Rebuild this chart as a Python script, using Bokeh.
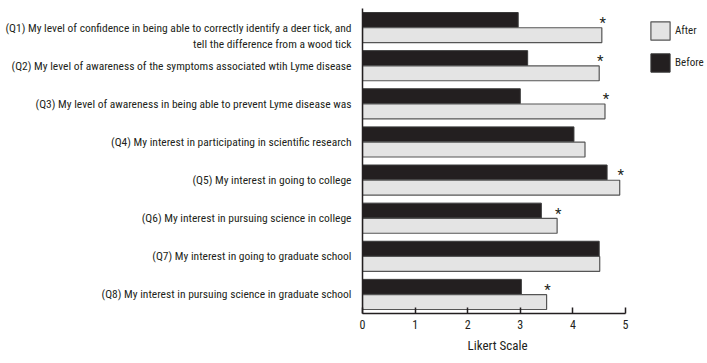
from bokeh.plotting import figure
from bokeh.models import ColumnDataSource, FactorRange, Legend, LegendItem, FixedTicker, Title
from bokeh.transform import dodge
from bokeh.core.properties import value
from bokeh.embed import file_html
from bokeh.resources import INLINE

questions = [
    "\n(Q1) My level of confidence in being able to correctly identify a deer tick, and\ntell the difference from a wood tick",
    "(Q2) My level of awareness of the symptoms associated wtih Lyme disease",
    "(Q3) My level of awareness in being able to prevent Lyme disease was",
    "(Q4) My interest in participating in scientific research",
    "(Q5) My interest in going to college",
    "(Q6) My interest in pursuing science in college",
    "(Q7) My interest in going to graduate school",
    "(Q8) My interest in pursuing science in graduate school",
]
before = [2.96, 3.14, 3.00, 4.02, 4.65, 3.40, 4.50, 3.02]
after = [4.55, 4.50, 4.61, 4.23, 4.89, 3.70, 4.51, 3.50]
significant = ["*", "*", "*", "", "*", "*", "", "*"]
x_ticks = [0, 1, 2, 3, 4, 5]
x_label = "Likert Scale"

FONT = "Roboto Condensed"
TXT = "#231f20"

src = ColumnDataSource(dict(q=questions, before=before, after=after, star=significant))

W, H = 705, 363
LEFT = 362           # px of the value 0
UNIT = 52.6          # px per Likert unit
p = figure(
    width=W, height=H,
    y_range=FactorRange(*reversed(questions), range_padding=0),
    x_range=(0, (W - LEFT) / UNIT),
    output_backend="svg", toolbar_location=None,
    min_border_left=LEFT, min_border_right=0, min_border_top=8, min_border_bottom=50,
)
p.outline_line_color = None
p.xgrid.visible = False
p.ygrid.visible = False

r_before = p.hbar(y=dodge("q", 0.2, range=p.y_range), left=0, right="before", height=0.39,
                  source=src, fill_color="#231f20", line_color="#3a3a3a", line_width=1)
r_after = p.hbar(y=dodge("q", -0.2, range=p.y_range), left=0, right="after", height=0.39,
                 source=src, fill_color="#e4e4e4", line_color="#555555", line_width=1.2)
p.text(x="after", y=dodge("q", 0.2, range=p.y_range), text="star", source=src,
       text_align="center", text_baseline="middle", text_font=value(FONT),
       text_font_size="15px", text_color=TXT, x_offset=1, y_offset=3)

# x axis (line drawn only over 0..5)
xa = p.xaxis[0]
xa.ticker = FixedTicker(ticks=x_ticks)
xa.bounds = (0, 5)
xa.major_label_text_font = FONT
xa.major_label_text_font_size = "12px"
xa.major_label_text_color = TXT
xa.major_label_standoff = 6
xa.major_tick_in = 6
xa.major_tick_out = 0
xa.major_tick_line_color = "#231f20"
xa.major_tick_line_width = 1.5
xa.minor_tick_line_color = None
xa.axis_line_color = "#231f20"
xa.axis_line_width = 1.5

# axis title, centred under the 0..5 span
p.add_layout(Title(text=x_label, align="left", offset=105, standoff=8,
                   text_font=FONT, text_font_size="13px", text_font_style="normal",
                   text_color=TXT), "below")

# y axis
ya = p.yaxis[0]
ya.major_tick_line_color = None
ya.minor_tick_line_color = None
ya.major_label_text_font = FONT
ya.major_label_text_font_size = "11.5px"
ya.major_label_text_color = TXT
ya.major_label_standoff = 5
ya.axis_line_color = "#231f20"
ya.axis_line_width = 1.5

legend = Legend(items=[LegendItem(label="After", renderers=[r_after]),
                       LegendItem(label="Before", renderers=[r_before])],
                location=(286, 239), padding=0, margin=0, spacing=9,
                glyph_width=24, glyph_height=23, label_standoff=3,
                label_text_font=FONT, label_text_font_size="11px", label_text_color=TXT,
                border_line_alpha=0, background_fill_alpha=0)
p.add_layout(legend, "center")

open("out.html", "w").write(file_html(p, INLINE))
